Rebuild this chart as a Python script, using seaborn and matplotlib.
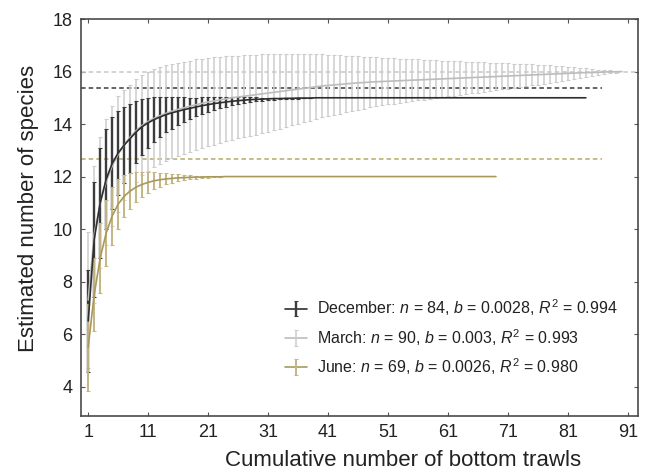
import numpy as np
import pandas as pd
import matplotlib
matplotlib.use("Agg")
import matplotlib.pyplot as plt
from matplotlib.lines import Line2D
import seaborn as sns

# ---- data ----
seasons = ["December", "March", "June"]
legend_labels = [
    "December: $n$ = 84, $b$ = 0.0028, $R^2$ = 0.994",
    "March: $n$ = 90, $b$ = 0.003, $R^2$ = 0.993",
    "June: $n$ = 69, $b$ = 0.0026, $R^2$ = 0.980",
]

dec_mean = [6.5, 9.6, 11.0, 11.9, 12.5, 12.9, 13.2, 13.45, 13.7, 13.9,
            14.05, 14.17, 14.27, 14.36, 14.43, 14.49, 14.55, 14.6, 14.65, 14.7,
            14.74, 14.78, 14.81, 14.84, 14.87, 14.89, 14.91, 14.93, 14.94, 14.95,
            14.96, 14.97, 14.97, 14.98, 14.98, 14.99, 14.99, 14.99, 15.0, 15.0,
            15.0, 15.0, 15.0, 15.0, 15.0, 15.0, 15.0, 15.0, 15.0, 15.0,
            15.0, 15.0, 15.0, 15.0, 15.0, 15.0, 15.0, 15.0, 15.0, 15.0,
            15.0, 15.0, 15.0, 15.0, 15.0, 15.0, 15.0, 15.0, 15.0, 15.0,
            15.0, 15.0, 15.0, 15.0, 15.0, 15.0, 15.0, 15.0, 15.0, 15.0,
            15.0, 15.0, 15.0, 15.0]
dec_sd = [1.95, 2.2, 2.1, 1.9, 1.75, 1.6, 1.45, 1.3, 1.18, 1.06,
          0.95, 0.85, 0.76, 0.68, 0.6, 0.53, 0.47, 0.41, 0.36, 0.32,
          0.28, 0.24, 0.21, 0.18, 0.15, 0.13, 0.11, 0.09, 0.08, 0.06,
          0.05, 0.04, 0.03, 0.03, 0.02, 0.02, 0.01, 0.01, 0.0, 0.0,
          0.0, 0.0, 0.0, 0.0, 0.0, 0.0, 0.0, 0.0, 0.0, 0.0,
          0.0, 0.0, 0.0, 0.0, 0.0, 0.0, 0.0, 0.0, 0.0, 0.0,
          0.0, 0.0, 0.0, 0.0, 0.0, 0.0, 0.0, 0.0, 0.0, 0.0,
          0.0, 0.0, 0.0, 0.0, 0.0, 0.0, 0.0, 0.0, 0.0, 0.0,
          0.0, 0.0, 0.0, 0.0]

mar_mean = [7.3, 9.8, 11.0, 11.8, 12.4, 12.85, 13.2, 13.5, 13.75, 13.95,
            14.1, 14.22, 14.32, 14.41, 14.49, 14.56, 14.62, 14.68, 14.74, 14.79,
            14.84, 14.88, 14.92, 14.96, 15.0, 15.03, 15.06, 15.09, 15.12, 15.15,
            15.18, 15.21, 15.24, 15.27, 15.3, 15.33, 15.36, 15.39, 15.42, 15.45,
            15.47, 15.49, 15.51, 15.53, 15.55, 15.57, 15.58, 15.6, 15.61, 15.62,
            15.63, 15.64, 15.65, 15.66, 15.67, 15.68, 15.69, 15.7, 15.71, 15.72,
            15.73, 15.74, 15.75, 15.76, 15.77, 15.78, 15.79, 15.8, 15.81, 15.82,
            15.83, 15.84, 15.85, 15.86, 15.87, 15.88, 15.89, 15.9, 15.91, 15.92,
            15.93, 15.94, 15.95, 15.96, 15.96, 15.97, 15.98, 15.99, 15.99, 16.0]
mar_sd = [2.6, 2.6, 2.5, 2.4, 2.3, 2.2, 2.1, 2.0, 1.95, 1.9,
          1.88, 1.86, 1.84, 1.82, 1.8, 1.78, 1.76, 1.74, 1.72, 1.7,
          1.68, 1.66, 1.64, 1.62, 1.6, 1.58, 1.56, 1.54, 1.52, 1.5,
          1.47, 1.44, 1.41, 1.38, 1.35, 1.32, 1.29, 1.26, 1.23, 1.2,
          1.17, 1.14, 1.11, 1.08, 1.05, 1.02, 0.99, 0.96, 0.93, 0.9,
          0.88, 0.86, 0.84, 0.82, 0.8, 0.78, 0.76, 0.74, 0.72, 0.7,
          0.68, 0.66, 0.64, 0.62, 0.6, 0.58, 0.56, 0.54, 0.52, 0.5,
          0.48, 0.46, 0.44, 0.42, 0.4, 0.38, 0.36, 0.34, 0.31, 0.28,
          0.25, 0.22, 0.19, 0.16, 0.13, 0.1, 0.07, 0.05, 0.03, 0.0]

jun_mean = [5.5, 7.5, 8.9, 9.85, 10.5, 10.95, 11.25, 11.45, 11.6, 11.7,
            11.78, 11.84, 11.88, 11.91, 11.93, 11.95, 11.96, 11.97, 11.98, 11.98,
            11.99, 11.99, 11.99, 12.0, 12.0, 12.0, 12.0, 12.0, 12.0, 12.0,
            12.0, 12.0, 12.0, 12.0, 12.0, 12.0, 12.0, 12.0, 12.0, 12.0,
            12.0, 12.0, 12.0, 12.0, 12.0, 12.0, 12.0, 12.0, 12.0, 12.0,
            12.0, 12.0, 12.0, 12.0, 12.0, 12.0, 12.0, 12.0, 12.0, 12.0,
            12.0, 12.0, 12.0, 12.0, 12.0, 12.0, 12.0, 12.0, 12.0]
jun_sd = [1.65, 1.4, 1.35, 1.25, 1.1, 0.95, 0.8, 0.68, 0.57, 0.47,
          0.39, 0.32, 0.26, 0.21, 0.17, 0.13, 0.1, 0.08, 0.06, 0.04,
          0.03, 0.02, 0.01, 0.0, 0.0, 0.0, 0.0, 0.0, 0.0, 0.0,
          0.0, 0.0, 0.0, 0.0, 0.0, 0.0, 0.0, 0.0, 0.0, 0.0,
          0.0, 0.0, 0.0, 0.0, 0.0, 0.0, 0.0, 0.0, 0.0, 0.0,
          0.0, 0.0, 0.0, 0.0, 0.0, 0.0, 0.0, 0.0, 0.0, 0.0,
          0.0, 0.0, 0.0, 0.0, 0.0, 0.0, 0.0, 0.0, 0.0]

# predicted asymptotes (dashed lines) and where they stop
asymptotes = [15.37, 16.0, 12.66]
asym_end = [86.7, 92.7, 86.7]

x_ticks = [1, 11, 21, 31, 41, 51, 61, 71, 81, 91]
y_ticks = [4, 6, 8, 10, 12, 14, 16, 18]

# ---- styling ----
line_colors = {"December": "#2e2e2e", "March": "#bcbcbc", "June": "#a8995a"}
bar_colors = {"December": "#3c3c3c", "March": "#cdcdcd", "June": "#c4b785"}
dash_colors = {"December": "#3a3a3a", "March": "#c8c8c8", "June": "#b9aa66"}
bar_widths = {"December": 1.7, "March": 1.1, "June": 1.4}

sns.set_style("ticks")
plt.rcParams["font.family"] = ["Liberation Sans", "DejaVu Sans"]
plt.rcParams["mathtext.fontset"] = "custom"
plt.rcParams["mathtext.rm"] = "Liberation Sans"
plt.rcParams["mathtext.it"] = "Liberation Sans:italic"

means = {"December": dec_mean, "March": mar_mean, "June": jun_mean}
sds = {"December": dec_sd, "March": mar_sd, "June": jun_sd}

frames = []
for s in seasons:
    m = np.array(means[s])
    frames.append(pd.DataFrame({"trawls": np.arange(1, len(m) + 1),
                                "species": m, "sd": np.array(sds[s]),
                                "season": s}))
df = pd.concat(frames, ignore_index=True)

fig = plt.figure(figsize=(6.48, 4.72), dpi=100)
ax = fig.add_axes([0.125, 0.1186, 0.8596, 0.8411])

# dashed asymptotes
for s, a, e in zip(seasons, asymptotes, asym_end):
    ax.hlines(a, -0.2, e, colors=dash_colors[s], linestyles=(0, (3, 2)),
              linewidth=1.1, zorder=1)

# error bars: March behind, then December, then June
containers = {}
for s in ["March", "December", "June"]:
    d = df[df["season"] == s]
    d = d[d["sd"] > 0]
    containers[s] = ax.errorbar(d["trawls"], d["species"], yerr=d["sd"],
                                fmt="none", ecolor=bar_colors[s],
                                elinewidth=bar_widths[s], capsize=1.5,
                                capthick=0.8, zorder=2)

# mean curves
sns.lineplot(data=df, x="trawls", y="species", hue="season",
             hue_order=["March", "December", "June"], palette=line_colors,
             linewidth=1.2, legend=False, ax=ax, zorder=3)

ax.set_xlim(-0.2, 92.7)
ax.set_ylim(2.88, 18.0)
ax.set_xticks(x_ticks)
ax.set_yticks(y_ticks)
ax.tick_params(direction="in", length=3, width=0.8, top=True, right=True,
               labeltop=False, labelright=False, labelsize=13,
               colors="#555555", labelcolor="#222222", pad=6)
for sp in ax.spines.values():
    sp.set_color("#4a4a4a")
    sp.set_linewidth(1.2)

ax.set_xlabel("Cumulative number of bottom trawls", fontsize=16,
              color="#222222")
ax.set_ylabel("Estimated number of species", fontsize=16,
              color="#222222")
ax.xaxis.set_label_coords(0.578, -0.085)
ax.yaxis.set_label_coords(-0.075, 0.524)

handles = [(Line2D([], [], color=line_colors[s], lw=1.2), containers[s])
           for s in seasons]
ax.legend(handles, legend_labels, loc="upper left",
          bbox_to_anchor=(0.34, 0.335), frameon=False, fontsize=11.5,
          labelspacing=0.55, handlelength=1.4, handletextpad=0.6,
          labelcolor="#222222")

fig.savefig("out.png", dpi=100)
